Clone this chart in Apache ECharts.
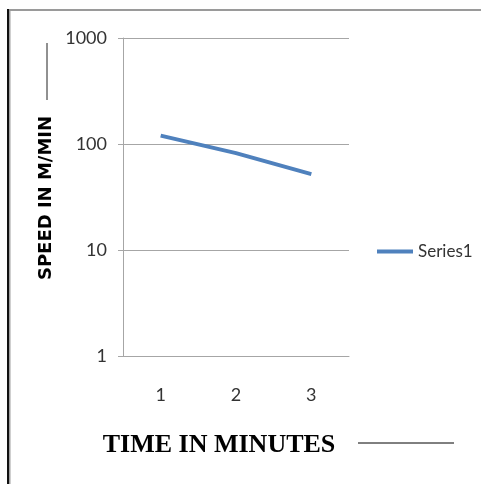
<!DOCTYPE html>
<html>
<head>
<meta charset="utf-8">
<script src="https://cdn.jsdelivr.net/npm/echarts@6/dist/echarts.min.js"></script>
<style>html,body{margin:0;padding:0;background:#fff;}#c{width:481px;height:484px;}</style>
</head>
<body>
<div id="c"></div>
<script>
var categories = ['1', '2', '3'];
var seriesName = 'Series1';
var speedValues = [120, 82, 52];
var yTitle = 'SPEED IN M/MIN';
var xTitle = 'TIME IN MINUTES';

var chart = echarts.init(document.getElementById('c'), null, {renderer: 'canvas'});
var axisGray = '#A6A6A6';
var labelFont = 'Lato';
chart.setOption({
  animation: false,
  backgroundColor: '#fff',
  grid: {left: 123, right: 132, top: 38, bottom: 128, containLabel: false},
  legend: {
    data: [{name: seriesName, icon: 'rect'}],
    left: 372, top: 238,
    itemWidth: 36, itemHeight: 4, itemGap: 5,
    textStyle: {fontFamily: labelFont, fontSize: 17, color: '#333'}
  },
  xAxis: {
    type: 'category',
    data: categories,
    boundaryGap: true,
    axisLine: {show: true, lineStyle: {color: axisGray, width: 1}},
    axisTick: {show: false},
    axisLabel: {margin: 30, fontFamily: labelFont, fontSize: 18, color: '#333'},
    splitLine: {show: false}
  },
  yAxis: {
    type: 'log',
    logBase: 10,
    min: 1,
    max: 1000,
    axisLine: {show: true, lineStyle: {color: axisGray, width: 1}},
    axisTick: {show: true, length: 5, lineStyle: {color: axisGray}},
    axisLabel: {margin: 16, fontFamily: labelFont, fontSize: 18, color: '#333',
      formatter: function (v) { return String(Math.round(v)); }},
    splitLine: {show: true, lineStyle: {color: axisGray, width: 1}}
  },
  series: [{
    name: seriesName,
    type: 'line',
    data: speedValues,
    showSymbol: false,
    symbol: 'none',
    lineStyle: {color: '#4F81BD', width: 4},
    itemStyle: {color: '#4F81BD'}
  }],
  graphic: [
    {type: 'rect', shape: {x: 7, y: 9, width: 474, height: 2}, style: {fill: '#9A9A9A'}, silent: true},
    {type: 'rect', shape: {x: 7, y: 9, width: 2, height: 475}, style: {fill: '#111'}, silent: true},
    {type: 'rect', shape: {x: 9, y: 11, width: 1.5, height: 473}, style: {fill: '#A0A0A0'}, silent: true},
    {type: 'line', shape: {x1: 47, y1: 43, x2: 47, y2: 100}, style: {stroke: '#222', lineWidth: 1}, silent: true},
    {type: 'text', x: 46, y: 198, rotation: Math.PI / 2,
      style: {text: yTitle, fontFamily: 'DejaVu Sans', fontWeight: 'bold', fontSize: 18, fill: '#000', align: 'center', verticalAlign: 'middle'}},
    {type: 'text', x: 219, y: 445,
      style: {text: xTitle, fontFamily: 'Liberation Serif', fontWeight: 'bold', fontSize: 26, fill: '#000', align: 'center', verticalAlign: 'middle'}},
    {type: 'line', shape: {x1: 358, y1: 443, x2: 454, y2: 443}, style: {stroke: '#000', lineWidth: 1}, silent: true}
  ]
});
</script>
</body>
</html>
